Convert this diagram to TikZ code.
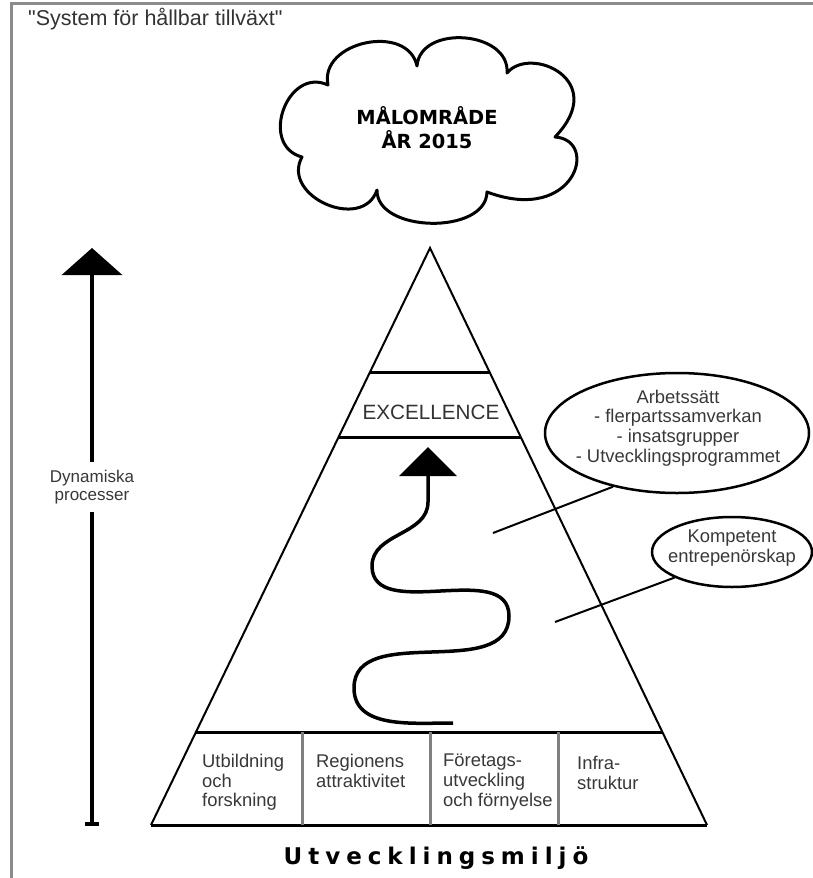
\documentclass[tikz,border=0pt]{standalone}
\usepackage{fontspec}
\setmainfont{Liberation Sans}
\newfontfamily\plainfont{Liberation Sans}
\newfontfamily\vfont{DejaVu Sans}
\newfontfamily\vwidefont{DejaVu Sans}[LetterSpace=26]
\usetikzlibrary{shapes.geometric,arrows.meta,calc}
\begin{document}
\begin{tikzpicture}[x=1pt,y=-1pt,
  frameline/.style={draw=black!45,line width=3pt},
  triline/.style={draw=black,line width=2pt},
  bandline/.style={draw=black,line width=3pt},
  divider/.style={draw=black!50,line width=3pt},
  cloudline/.style={draw=black,line width=3pt,line join=round},
  bubble/.style={draw=black,line width=2.5pt,ellipse,inner sep=0pt},
  connline/.style={draw=black,line width=2pt},
  bigarrow/.style={draw=black,line width=3.5pt,-{Triangle[width=60pt,length=27pt]}},
  wavearrow/.style={draw=black,line width=3.5pt,-{Triangle[width=57pt,length=29pt]}},
  smalltext/.style={font=\fontsize{18.4}{19.7}\selectfont,text=black!78,inner sep=0pt},
  boxtext/.style={smalltext,align=left,anchor=north west},
  bubbletext/.style={smalltext,align=center}
]
\useasboundingbox (0,0) rectangle (813,878);
% frame
\draw[frameline] (11,878) -- (11,3) -- (813,3);
% title
\node[font=\plainfont\fontsize{21.5}{24}\selectfont,text=black!80,anchor=west,inner sep=0pt] (title) at (28,19) {"System för hållbar tillväxt"};
% cloud
\draw[cloudline] (328,85) to[bend left=90,looseness=1.25] (417,66)
  to[bend left=90,looseness=1.2] (507,73)
  .. controls (530,45) and (610,80) .. (555,137)
  .. controls (600,140) and (575,225) .. (487,192)
  to[bend left=90,looseness=1.0] (377,190)
  to[bend left=95,looseness=1.4] (302,157)
  to[bend left=95,looseness=1.5] (328,85) -- cycle;
\node[font=\vfont\bfseries\fontsize{19.4}{24}\selectfont,align=center,inner sep=0pt] (goal) at (427,128) {MÅLOMRÅDE\\ÅR 2015};
% triangle
\coordinate (A) at (430,248);
\coordinate (BL) at (151,825);
\coordinate (BR) at (707,825);
\draw[triline] (BL) -- (A) -- (BR);
\draw[bandline] (BL) -- (BR);
\draw[bandline] ($(BL)!0.1612!(A)$) coordinate (bandL) -- ($(BR)!0.1612!(A)$) coordinate (bandR);
\draw[bandline] ($(BL)!0.785!(A)$) coordinate (exTL) -- ($(BR)!0.785!(A)$) coordinate (exTR);
\draw[bandline] ($(BL)!0.6724!(A)$) coordinate (exBL) -- ($(BR)!0.6724!(A)$) coordinate (exBR);
\node[font=\fontsize{20.7}{24}\selectfont,text=black!80,inner sep=0pt] (excel) at (431,412) {EXCELLENCE};
% dividers
\foreach \x/\n in {302/d1,430/d2,558/d3}{
  \coordinate (\n t) at (\x,732);
  \coordinate (\n b) at (\x,825);
  \draw[divider] (\n t) -- (\n b);
}
\node[boxtext] (b1) at (202,754) {Utbildning\\och\\forskning};
\node[boxtext] (b2) at (316,754) {Regionens\\attraktivitet};
\node[boxtext] (b3) at (443,754) {Företags-\\utveckling\\och förnyelse};
\node[boxtext] (b4) at (577,756) {Infra-\\struktur};
\node[font=\vwidefont\bfseries\fontsize{23}{26}\selectfont,inner sep=0pt] (miljo) at (436,858) {Utvecklingsmiljö};
% left arrow
\coordinate (dtop) at (92,248);
\coordinate (dbot) at (92,826);
\node[smalltext,font=\fontsize{17}{18}\selectfont,align=center,fill=white,inner ysep=8pt] (dyn) at (92,487) {Dynamiska\\processer};
\draw[bigarrow] (dyn.north) -- (dtop);
\draw[draw=black,line width=3.5pt,{Rectangle[length=4pt,width=14pt]}-] (dbot) -- (dyn.south);
% wave arrow
\coordinate (w0) at (453,723);
\coordinate (w1) at (354,688);
\coordinate (w2) at (509,616);
\coordinate (w3) at (372,566);
\coordinate (w4) at (428,502);
\coordinate (w5) at (428,447);
\draw[wavearrow] (w0) to[out=180,in=-90] (w1) to[out=90,in=-90] (w2) to[out=90,in=-90] (w3) to[out=90,in=-90] (w4) -- (w5);
% bubbles
\node[bubble,minimum width=264pt,minimum height=120pt] (e1) at (677,433) {};
\node[bubbletext] (e1t) at (678,428) {Arbetssätt\\- flerpartssamverkan\\- insatsgrupper\\- Utvecklingsprogrammet};
\node[bubble,minimum width=160pt,minimum height=70pt] (e2) at (732,552) {};
\node[bubbletext] (e2t) at (732,548) {Kompetent\\entrepenörskap};
\coordinate (c1) at (493,533);
\coordinate (c2) at (555,622);
\draw[connline] (e1.220) -- (c1);
\draw[connline] (e2.204) -- (c2);
\end{tikzpicture}
\end{document}
